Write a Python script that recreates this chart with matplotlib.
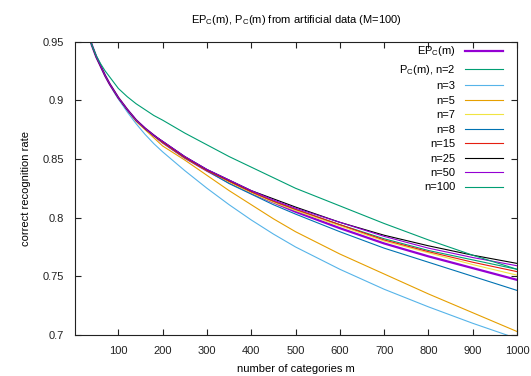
import matplotlib
matplotlib.use("Agg")
import matplotlib.pyplot as plt

plt.rcParams["font.family"] = ["Liberation Sans", "DejaVu Sans"]
plt.rcParams["mathtext.fontset"] = "custom"
plt.rcParams["mathtext.rm"] = "Liberation Sans"

# number of categories m
M = [30, 40, 50, 60, 70, 80, 90, 100, 120, 140, 160, 180, 200,
     250, 300, 350, 400, 450, 500, 600, 700, 800, 900, 1000]

EPC = [0.960, 0.947, 0.937, 0.929, 0.921, 0.914, 0.908, 0.902, 0.892, 0.883, 0.876, 0.870, 0.864,
       0.851, 0.840, 0.830, 0.821, 0.813, 0.805, 0.791, 0.778, 0.767, 0.757, 0.747]
N2 = [0.960, 0.947, 0.937, 0.929, 0.921, 0.914, 0.908, 0.902, 0.892, 0.883, 0.876, 0.870, 0.864,
      0.851, 0.840, 0.831, 0.822, 0.814, 0.807, 0.794, 0.782, 0.772, 0.764, 0.756]
N3 = [0.960, 0.947, 0.937, 0.929, 0.921, 0.914, 0.907, 0.901, 0.890, 0.880, 0.871, 0.863, 0.856,
      0.840, 0.825, 0.811, 0.798, 0.786, 0.775, 0.756, 0.739, 0.724, 0.710, 0.697]
N5 = [0.960, 0.947, 0.937, 0.929, 0.921, 0.914, 0.908, 0.902, 0.892, 0.882, 0.875, 0.868, 0.861,
      0.849, 0.836, 0.823, 0.811, 0.799, 0.788, 0.769, 0.752, 0.735, 0.719, 0.703]
N7 = [0.960, 0.947, 0.937, 0.929, 0.921, 0.914, 0.908, 0.902, 0.892, 0.883, 0.876, 0.870, 0.864,
      0.851, 0.840, 0.830, 0.821, 0.813, 0.806, 0.793, 0.780, 0.770, 0.760, 0.751]
N8 = [0.960, 0.947, 0.937, 0.929, 0.921, 0.914, 0.908, 0.902, 0.892, 0.883, 0.876, 0.870, 0.864,
      0.851, 0.840, 0.829, 0.820, 0.811, 0.803, 0.788, 0.774, 0.762, 0.750, 0.738]
N15 = [0.960, 0.947, 0.937, 0.929, 0.921, 0.914, 0.908, 0.902, 0.892, 0.883, 0.876, 0.870, 0.864,
       0.851, 0.840, 0.831, 0.822, 0.814, 0.807, 0.794, 0.781, 0.771, 0.762, 0.754]
N25 = [0.960, 0.947, 0.937, 0.929, 0.921, 0.914, 0.908, 0.902, 0.892, 0.883, 0.876, 0.870, 0.865,
       0.852, 0.841, 0.832, 0.823, 0.816, 0.809, 0.796, 0.785, 0.776, 0.768, 0.761]
N50 = [0.960, 0.947, 0.937, 0.929, 0.921, 0.914, 0.908, 0.902, 0.892, 0.883, 0.876, 0.870, 0.865,
       0.852, 0.841, 0.832, 0.823, 0.815, 0.808, 0.796, 0.784, 0.774, 0.766, 0.759]
N100 = [0.960, 0.947, 0.938, 0.931, 0.925, 0.920, 0.915, 0.910, 0.903, 0.897, 0.892, 0.887, 0.883,
        0.872, 0.862, 0.852, 0.843, 0.834, 0.825, 0.810, 0.795, 0.781, 0.768, 0.756]

SERIES = [
    (r"EP$_{\rm C}$(m)", EPC, "#9400d3", 1.6),
    (r"P$_{\rm C}$(m), n=2", N2, "#009e73", 0.8),
    ("n=3", N3, "#56b4e9", 0.8),
    ("n=5", N5, "#e69f00", 0.8),
    ("n=7", N7, "#f0e442", 0.8),
    ("n=8", N8, "#0072b2", 0.8),
    ("n=15", N15, "#e51e10", 0.8),
    ("n=25", N25, "#000000", 0.8),
    ("n=50", N50, "#9400d3", 0.8),
    ("n=100", N100, "#009e73", 0.8),
]

fig = plt.figure(figsize=(5.31, 3.76), dpi=100)
ax = fig.add_axes([0.1412, 0.109, 0.8324, 0.7806])

for label, vals, color, lw in SERIES:
    ax.plot(M, vals, color=color, lw=lw, label=label)

ax.set_xlim(2, 1000)
ax.set_ylim(0.7, 0.95)
ax.set_xticks(range(100, 1001, 100))
ax.set_yticks([0.7, 0.75, 0.8, 0.85, 0.9, 0.95])
ax.set_yticklabels(["0.7", "0.75", "0.8", "0.85", "0.9", "0.95"])
ax.tick_params(direction="in", length=4, width=0.8, top=True, right=True,
               labelsize=8, pad=8, colors="#222222")
for s in ax.spines.values():
    s.set_linewidth(0.8)
    s.set_color("#222222")

ax.set_title(r"EP$_{\rm C}$(m), P$_{\rm C}$(m) from artificial data (M=100)",
             fontsize=8, pad=13)
ax.set_xlabel("number of categories m", fontsize=8, labelpad=6)
ax.set_ylabel("correct recognition rate", fontsize=8, labelpad=8)

leg = ax.legend(loc="upper right", bbox_to_anchor=(0.968, 0.99), frameon=False,
                markerfirst=False, fontsize=8, handlelength=3.4, labelspacing=0.4,
                handletextpad=0.85, borderaxespad=0, borderpad=0)

fig.savefig("out.png", dpi=100)
